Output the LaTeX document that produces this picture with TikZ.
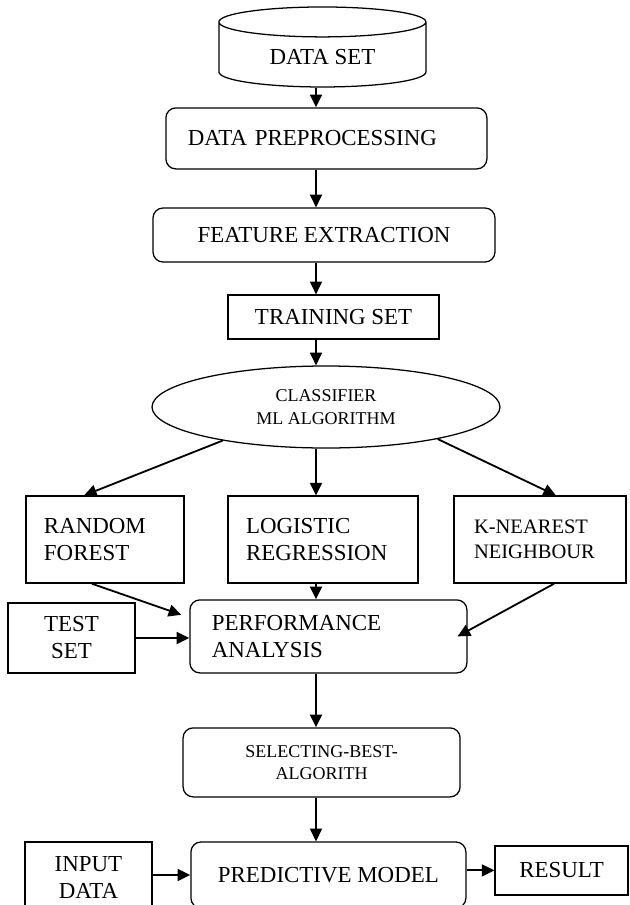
\documentclass[tikz,border=0pt]{standalone}
\usepackage{fontspec}
\setmainfont{Liberation Serif}
\usepackage{tikz}
\usetikzlibrary{shapes.geometric, positioning, arrows.meta}
\newcommand{\bigfont}{\fontsize{16.3}{19.2}\selectfont}
\newcommand{\midfont}{\fontsize{14.6}{18}\selectfont}
\newcommand{\smallfont}{\fontsize{12.8}{16}\selectfont}

\begin{document}
\begin{tikzpicture}[
    box/.style={rectangle, draw, line width=0.9pt, inner sep=0pt, font=\bigfont},
    rbox/.style={box, rounded corners=0.25cm},
    arr/.style={-{Triangle[length=9pt,width=8.5pt]}, line width=1.3pt}]
    \useasboundingbox (0,0) rectangle (15.725,-22.625);
    \clip (0,0) rectangle (15.725,-22.625);
    \coordinate (spine) at (7.9,0);
    \node (dataset) at (8.06,-1.425) [cylinder, shape border rotate=90, aspect=0.26, draw, line width=0.9pt, minimum width=5.175cm, minimum height=2cm, font=\bigfont] {DATA SET};
    \node (prep) at (8.16,-3.46) [rbox, minimum width=8.025cm, minimum height=1.525cm, text width=6.925cm, inner xsep=0.55cm, align=left] {DATA PREPROCESSING};
    \node (feat) at (8.1,-5.875) [rbox, minimum width=8.55cm, minimum height=1.35cm] {FEATURE EXTRACTION};
    \node (train) at (8.34,-7.925) [box, minimum width=5.275cm, minimum height=1.1cm] {TRAINING SET};
    \node (classifier) at (8.15,-10.175) [ellipse, draw, line width=0.9pt, minimum width=8.7cm, minimum height=2.05cm, inner sep=0pt, align=center, font=\smallfont] {CLASSIFIER\\ML ALGORITHM};
    \node (rf) at (2.625,-13.49) [box, minimum height=2.175cm, text width=3.05cm, inner xsep=0.45cm, align=left] {RANDOM\\FOREST};
    \node (lr) at (8.075,-13.49) [box, minimum height=2.175cm, text width=3.85cm, inner xsep=0.45cm, align=left] {LOGISTIC\\REGRESSION};
    \node (knn) at (13.5,-13.49) [box, minimum height=2.175cm, text width=3.3cm, inner xsep=0.5cm, align=left, font=\midfont] {K-NEAREST\\NEIGHBOUR};
    \node (test) at (1.79,-15.95) [box, minimum width=3.175cm, minimum height=1.75cm, align=center] {TEST\\SET};
    \node (perf) at (8.21,-15.91) [rbox, minimum height=1.825cm, text width=5.825cm, inner xsep=0.55cm, align=left] {PERFORMANCE\\ANALYSIS};
    \node (select) at (8.04,-19.06) [rbox, minimum width=6.925cm, minimum height=1.725cm, align=center, font=\smallfont] {SELECTING-BEST-\\ALGORITH};
    \node (pred) at (8.21,-21.875) [rbox, minimum width=6.875cm, minimum height=1.65cm] {PREDICTIVE MODEL};
    \node (input) at (2.21,-21.95) [box, minimum width=3.175cm, minimum height=1.8cm, align=center] {INPUT\\DATA};
    \node (result) at (14.04,-21.76) [box, minimum width=3.325cm, minimum height=1.225cm] {RESULT};
    % main column
    \draw[arr] (dataset.south -| spine) -- (prep.north -| spine);
    \draw[arr] (prep.south -| spine) -- (feat.north -| spine);
    \draw[arr] (feat.south -| spine) -- (train.north -| spine);
    \draw[arr] (train.south -| spine) -- (classifier.north -| spine);
    % the three algorithms
    \draw[arr] (classifier.198) -- ([xshift=-0.525cm]rf.north);
    \draw[arr] (classifier.south -| spine) -- (lr.north -| spine);
    \draw[arr] (classifier.344) -- ([xshift=0.4cm]knn.north);
    \draw[arr] ([xshift=-0.325cm]rf.south) -- ([xshift=-0.2cm,yshift=0.54cm]perf.west);
    \draw[arr] (lr.south -| spine) -- (perf.north -| spine);
    \draw[arr] ([xshift=0.35cm]knn.south) -- ([xshift=-0.25cm]perf.east);
    \draw[arr] (test.east) -- (test.east -| perf.west);
    \draw[arr] (perf.south -| spine) -- (select.north -| spine);
    \draw[arr] (select.south -| spine) -- (pred.north -| spine);
    \draw[arr] (input.east |- pred.west) -- (pred.west);
    \draw[arr] (pred.east |- result.west) -- (result.west);
\end{tikzpicture}
\end{document}
